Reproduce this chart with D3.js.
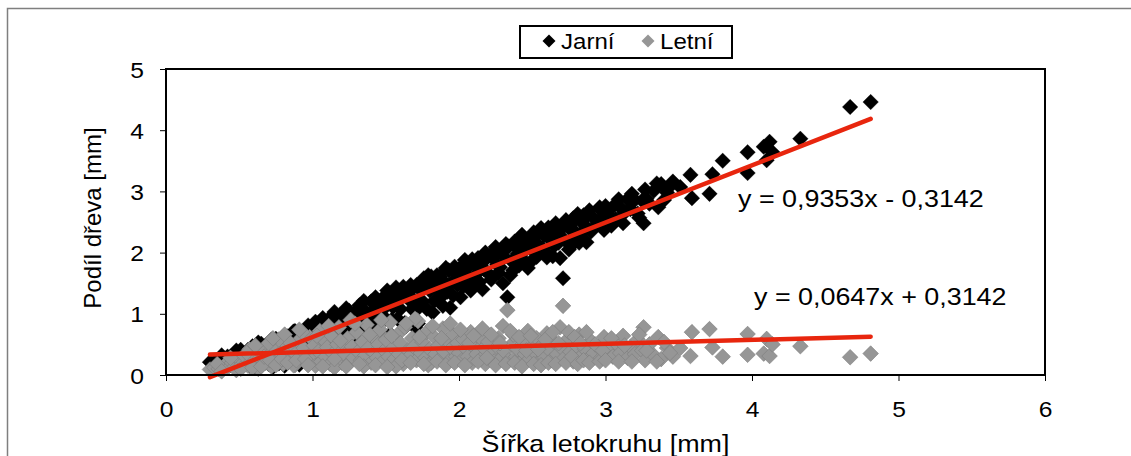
<!DOCTYPE html>
<html>
<head>
<meta charset="utf-8">
<script src="https://cdn.jsdelivr.net/npm/d3@7"></script>
<style>
  html, body { margin: 0; padding: 0; background: #fff; }
  svg { display: block; font-family: "Liberation Sans", Arial, sans-serif; }
</style>
</head>
<body>
<svg id="chart" width="1131" height="456"></svg>
<script>
// Ring width [mm] of each sample
const sirka = [
  0.30,0.33,0.36,0.40,0.42,0.45,0.47,0.50,0.52,0.54,0.56,0.58,0.60,0.62,0.64,0.66,0.68,0.70,0.72,0.74,
  0.76,0.78,0.80,0.82,0.84,0.86,0.88,0.90,0.92,0.94,0.96,0.98,0.99,0.48,0.63,0.77,0.87,0.93,0.70,0.57,
  1.00,1.01,1.02,1.04,1.05,1.06,1.08,1.09,1.10,1.12,1.13,1.14,1.16,1.17,1.18,1.20,1.21,1.22,1.24,1.25,
  1.27,1.28,1.30,1.31,1.33,1.34,1.36,1.37,1.38,1.40,1.41,1.42,1.44,1.45,1.46,1.48,1.49,1.50,1.52,1.53,
  1.55,1.56,1.58,1.59,1.60,1.62,1.63,1.65,1.66,1.68,1.69,1.71,1.72,1.74,1.75,1.77,1.78,1.80,1.81,1.83,
  1.84,1.86,1.87,1.89,1.90,1.92,1.93,1.95,1.96,1.98,1.99,1.15,1.35,1.57,1.79,1.26,1.70,
  2.00,2.02,2.03,2.05,2.06,2.08,2.09,2.11,2.12,2.14,2.15,2.17,2.18,2.20,2.30,2.23,2.24,2.26,2.27,2.29,
  2.31,2.33,2.34,2.36,2.37,2.39,2.40,2.42,2.44,2.45,2.47,2.48,2.50,2.52,2.53,2.55,2.57,2.58,2.60,2.62,
  2.63,2.65,2.67,2.69,2.70,2.71,2.72,2.74,2.76,2.78,2.80,2.82,2.84,2.86,2.88,2.90,2.92,2.95,2.97,2.99,
  3.02,3.05,3.07,3.10,3.12,3.15,3.17,3.20,3.22,3.25,3.27,3.30,3.33,3.36,3.38,3.42,3.46,3.26,
  3.51,3.58,3.59,3.71,3.73,3.80,3.97,3.97,4.08,4.10,4.12,4.14,4.33,4.67,4.81,
  0.35,0.38,0.44,0.51,0.55,0.59,0.61,0.65,0.67,0.71,0.73,0.75,0.79,0.81,0.83,0.85,0.89,0.91,0.95,0.97,
  1.03,1.07,1.11,1.15,1.19,1.23,1.29,1.32,1.39,1.43,1.47,1.51,1.54,1.61,1.64,1.67,1.73,1.76,1.82,1.85,
  1.88,1.91,1.94,1.97,2.01,2.04,2.07,2.10,2.13,2.16,2.19,2.22,2.25,2.28,2.32,2.35,2.38,2.41,2.43,2.46,
  2.49,2.51,2.54,2.56,2.59,2.61,2.64,2.66,2.68,2.73,2.75,2.77,2.79,2.81,2.83,2.85,2.87,2.89,2.93,2.96,
  2.98,3.00,3.04,3.09,3.13,3.18,3.23,3.28,3.35,3.40,3.44
];
// Earlywood part [mm]
const jarni = [
  0.21,0.21,0.26,0.24,0.30,0.25,0.33,0.25,0.34,0.24,0.41,0.36,0.25,0.44,0.36,0.26,0.48,0.38,0.58,0.29,
  0.52,0.42,0.62,0.32,0.56,0.46,0.72,0.35,0.62,0.50,0.76,0.36,0.65,0.40,0.53,0.19,0.71,0.23,0.18,0.15,
  0.75,0.53,0.87,0.66,0.33,0.84,0.52,0.79,0.65,0.94,0.49,0.79,0.89,0.67,0.40,1.00,0.79,0.89,0.64,1.05,
  0.81,1.00,0.60,0.93,1.09,0.80,1.04,0.55,0.94,1.20,0.79,1.06,1.16,0.95,0.72,1.26,1.09,0.92,1.22,0.67,
  1.11,1.30,0.92,1.25,1.08,1.44,0.85,1.25,1.36,1.08,1.23,1.47,0.84,1.38,1.21,1.49,1.08,1.38,1.61,1.21,
  1.50,1.38,1.61,1.13,1.52,1.36,1.71,1.51,1.30,1.68,1.47,1.03,1.21,1.43,1.63,0.36,0.78,
  1.64,1.78,1.45,1.63,1.76,1.38,1.89,1.63,1.78,1.52,1.89,1.73,2.00,1.66,1.50,1.91,2.02,1.80,1.67,2.01,
  1.93,1.27,2.10,1.86,1.71,2.09,1.98,2.22,1.88,2.11,1.75,2.22,2.04,2.16,1.93,2.33,2.07,2.28,1.92,2.22,
  2.39,2.11,2.33,1.91,2.26,1.58,2.44,2.16,2.38,2.56,2.32,2.16,2.52,2.44,2.62,2.34,2.56,2.49,2.69,2.37,
  2.62,2.75,2.55,2.74,2.48,2.87,2.71,2.86,2.64,2.85,3.03,2.80,3.01,2.74,3.12,2.98,3.16,2.48,
  3.07,3.27,2.89,2.96,3.28,3.50,3.64,3.30,3.73,3.51,3.81,3.64,3.86,4.38,4.46,
  0.17,0.32,0.16,0.41,0.19,0.47,0.13,0.51,0.37,0.47,0.13,0.59,0.53,0.15,0.63,0.33,0.65,0.17,0.69,0.81,
  0.39,0.93,0.31,0.89,0.63,1.09,0.45,1.14,0.73,1.27,0.57,1.38,0.90,1.37,0.80,1.47,1.11,1.58,1.02,1.63,
  1.28,1.75,1.10,1.77,1.27,1.88,1.55,1.46,1.91,1.40,1.91,1.56,2.09,1.76,2.14,1.63,2.18,1.79,2.29,2.06,
  1.85,2.33,2.12,2.40,2.01,2.41,1.94,2.48,2.16,2.53,2.05,2.47,2.17,2.63,2.31,2.61,2.17,2.69,2.43,2.74,
  2.58,2.76,2.44,2.87,2.65,2.96,2.57,2.88,3.13,2.86,3.08
];
// Latewood part [mm]
const letni = [
  0.09,0.12,0.10,0.16,0.12,0.20,0.14,0.25,0.18,0.30,0.15,0.22,0.35,0.18,0.28,0.40,0.20,0.32,0.14,0.45,
  0.24,0.36,0.18,0.50,0.28,0.40,0.16,0.55,0.30,0.44,0.20,0.62,0.34,0.08,0.10,0.58,0.16,0.70,0.52,0.42,
  0.25,0.48,0.15,0.38,0.72,0.22,0.56,0.30,0.45,0.18,0.64,0.35,0.27,0.50,0.78,0.20,0.42,0.33,0.60,0.20,
  0.46,0.28,0.70,0.38,0.24,0.54,0.32,0.82,0.44,0.20,0.62,0.36,0.28,0.50,0.74,0.22,0.40,0.58,0.30,0.86,
  0.44,0.26,0.66,0.34,0.52,0.18,0.78,0.40,0.30,0.60,0.46,0.24,0.88,0.36,0.54,0.28,0.70,0.42,0.20,0.62,
  0.34,0.48,0.26,0.76,0.38,0.56,0.22,0.44,0.66,0.30,0.52,0.12,0.14,0.14,0.16,0.90,0.92,
  0.36,0.24,0.58,0.42,0.30,0.70,0.20,0.48,0.34,0.62,0.26,0.44,0.18,0.54,0.80,0.32,0.22,0.46,0.60,0.28,
  0.38,1.06,0.24,0.50,0.66,0.30,0.42,0.20,0.56,0.34,0.72,0.26,0.46,0.36,0.60,0.22,0.50,0.30,0.68,0.40,
  0.24,0.54,0.34,0.78,0.44,1.13,0.28,0.58,0.38,0.22,0.48,0.66,0.32,0.42,0.26,0.56,0.36,0.46,0.28,0.62,
  0.40,0.30,0.52,0.36,0.64,0.28,0.46,0.34,0.58,0.40,0.24,0.50,0.32,0.62,0.26,0.44,0.30,0.78,
  0.44,0.31,0.70,0.75,0.45,0.30,0.33,0.67,0.35,0.59,0.31,0.50,0.47,0.29,0.35,
  0.18,0.06,0.28,0.10,0.36,0.12,0.48,0.14,0.30,0.24,0.60,0.16,0.26,0.66,0.20,0.52,0.24,0.74,0.26,0.16,
  0.64,0.14,0.80,0.26,0.56,0.14,0.84,0.18,0.66,0.16,0.90,0.13,0.64,0.24,0.84,0.20,0.62,0.18,0.80,0.22,
  0.60,0.16,0.84,0.20,0.74,0.16,0.52,0.64,0.22,0.76,0.28,0.66,0.16,0.52,0.18,0.72,0.20,0.62,0.14,0.40,
  0.64,0.18,0.42,0.16,0.58,0.20,0.70,0.18,0.52,0.20,0.70,0.30,0.62,0.18,0.52,0.24,0.70,0.20,0.50,0.22,
  0.40,0.24,0.60,0.22,0.48,0.22,0.66,0.40,0.22,0.54,0.36
];

// Linear trend lines: slope and intercept per series
const seriesNames = ["Jarní", "Letní"];
const trendSlope = [0.9353, 0.0647];
const trendIntercept = [-0.3142, 0.3142];
const trendLabels = ["y = 0,9353x - 0,3142", "y = 0,0647x + 0,3142"];

const xTicks = [0, 1, 2, 3, 4, 5, 6];
const yTicks = [0, 1, 2, 3, 4, 5];
const xTitle = "Šířka letokruhu [mm]";
const yTitle = "Podíl dřeva [mm]";

const svg = d3.select("#chart");
const plot = { left: 166, right: 1045, top: 69, bottom: 375 };
const WIDEN = 1.12; // horizontal stretch of the lettering

const x = d3.scaleLinear().domain([0, 6]).range([plot.left, plot.right]);
const y = d3.scaleLinear().domain([0, 5]).range([plot.bottom, plot.top]);

const colors = ["#000000", "#969696"];
const strokes = ["#000000", "#7c7c7c"];

function label(parent, px, py, str, size, anchor) {
  return parent.append("text")
    .attr("transform", `translate(${px},${py}) scale(${WIDEN},1)`)
    .attr("font-size", size).attr("fill", "#000")
    .attr("text-anchor", anchor || "start")
    .text(str);
}

// Outer chart frame
svg.append("rect")
  .attr("x", 7.5).attr("y", 8.5)
  .attr("width", 1140).attr("height", 470)
  .attr("fill", "none").attr("stroke", "#7f7f7f").attr("stroke-width", 1.5);

// Axes
const xAxis = d3.axisBottom(x).tickValues(xTicks).tickSize(6).tickFormat(d3.format("d"));
const yAxis = d3.axisLeft(y).tickValues(yTicks).tickSize(6).tickFormat(d3.format("d"));

const gx = svg.append("g").attr("transform", `translate(0,${plot.bottom})`).call(xAxis);
const gy = svg.append("g").attr("transform", `translate(${plot.left},0)`).call(yAxis);
[gx, gy].forEach(g => {
  g.select(".domain").remove();
  g.selectAll(".tick line").attr("stroke", "#000").attr("stroke-width", 1);
  g.selectAll(".tick text")
    .attr("font-family", "Liberation Sans, Arial, sans-serif")
    .attr("font-size", 22).attr("fill", "#000");
});
gx.selectAll(".tick text").attr("y", 0).attr("dy", 0)
  .attr("transform", `translate(0,42) scale(${WIDEN},1)`);
gy.selectAll(".tick text").attr("x", 0).attr("dy", 0)
  .attr("transform", `translate(-22,8) scale(${WIDEN},1)`);

// Markers
const diamond = r => `M0,${-r}L${r},0L0,${r}L${-r},0Z`;
const jarniPts = sirka.map((v, i) => [v, jarni[i]]);
const letniPts = sirka.map((v, i) => [v, letni[i]]);
[jarniPts, letniPts].forEach((pts, s) => {
  svg.append("g").selectAll("path").data(pts).join("path")
    .attr("d", diamond(7.8))
    .attr("transform", d => `translate(${x(d[0])},${y(d[1])})`)
    .attr("fill", colors[s])
    .attr("stroke", strokes[s])
    .attr("stroke-width", s ? 0.6 : 0.3);
});

// Trend lines over the data range
const xMin = d3.min(sirka), xMax = d3.max(sirka);
const line = d3.line().x(d => x(d[0])).y(d => y(d[1]));
trendSlope.forEach((m, s) => {
  const b = trendIntercept[s];
  svg.append("path")
    .attr("d", line([[xMin, m * xMin + b], [xMax, m * xMax + b]]))
    .attr("stroke", "#e8260e").attr("stroke-width", 4.5)
    .attr("stroke-linecap", "round").attr("fill", "none");
});

// Plot area border
svg.append("rect")
  .attr("x", plot.left).attr("y", plot.top)
  .attr("width", plot.right - plot.left).attr("height", plot.bottom - plot.top)
  .attr("fill", "none").attr("stroke", "#000").attr("stroke-width", 2);

// Trend equations
const eqPos = [[738, 207], [754, 305]];
trendLabels.forEach((t, s) => label(svg, eqPos[s][0], eqPos[s][1], t, 24));

// Axis titles
label(svg, x(3), 452, xTitle, 24, "middle");
svg.append("text").attr("transform", "translate(93,218) rotate(-90)")
  .attr("text-anchor", "middle").attr("dy", "0.35em")
  .attr("font-size", 24).text(yTitle);

// Legend
const lg = svg.append("g");
lg.append("rect").attr("x", 520).attr("y", 26).attr("width", 212).attr("height", 32)
  .attr("fill", "#fff").attr("stroke", "#000").attr("stroke-width", 2);
const legendX = [[549, 561], [648, 660]];
seriesNames.forEach((n, s) => {
  lg.append("path").attr("d", diamond(6.5))
    .attr("transform", `translate(${legendX[s][0]},41)`)
    .attr("fill", colors[s]);
  label(lg, legendX[s][1], 49, n, 21.5);
});
</script>
</body>
</html>
